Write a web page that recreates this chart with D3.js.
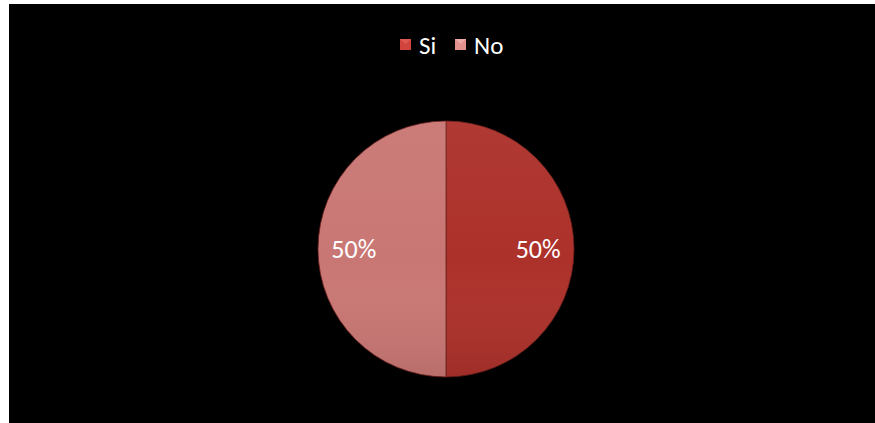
<!DOCTYPE html>
<html>
<head>
<meta charset="utf-8">
<script src="https://cdn.jsdelivr.net/npm/d3@7"></script>
<style>
  html, body { margin: 0; padding: 0; background: #ffffff; }
  svg { display: block; }
</style>
</head>
<body>
<svg id="chart" width="875" height="423"></svg>
<script>
// Survey answers and their shares
const categories = ["Si", "No"];
const values = [50, 50];
const colors = ["#d0443d", "#e3918f"];
const lightColors = ["#e05d55", "#f0aeac"];
const darkColors = ["#ad312b", "#c97774"];

const svg = d3.select("#chart");
const W = 875, H = 423;
const fontFamily = "Carlito, 'Open Sans', 'Liberation Sans', sans-serif";

// Black panel
svg.append("rect").attr("x", 9).attr("y", 4).attr("width", W - 9).attr("height", H - 4).attr("fill", "#000");

const cx = 446, cy = 249, r = 128;

// Beveled fill: flat centre, lighter rim, darker outer edge
const defs = svg.append("defs");
categories.forEach((c, i) => {
  const g = defs.append("radialGradient")
    .attr("id", "grad" + i)
    .attr("gradientUnits", "userSpaceOnUse")
    .attr("cx", cx).attr("cy", cy).attr("r", r);
  g.append("stop").attr("offset", "0%").attr("stop-color", colors[i]);
  g.append("stop").attr("offset", "88%").attr("stop-color", colors[i]);
  g.append("stop").attr("offset", "95%").attr("stop-color", lightColors[i]);
  g.append("stop").attr("offset", "100%").attr("stop-color", darkColors[i]);
  const lg = defs.append("linearGradient").attr("id", "shade" + i)
    .attr("x1", 0).attr("y1", 0).attr("x2", 0).attr("y2", 1);
  lg.append("stop").attr("offset", "0%").attr("stop-color", "#fff").attr("stop-opacity", 0.04);
  lg.append("stop").attr("offset", "55%").attr("stop-color", "#fff").attr("stop-opacity", 0);
  lg.append("stop").attr("offset", "100%").attr("stop-color", "#000").attr("stop-opacity", 0.08);
});

const pie = d3.pie().sort(null).value(d => d.v);
const arcs = pie(categories.map((c, i) => ({ c, v: values[i], i })));
const arc = d3.arc().innerRadius(0).outerRadius(r);
const labelArc = d3.arc().innerRadius(r * 0.72).outerRadius(r * 0.72);
const total = d3.sum(values);

const pieG = svg.append("g");
pieG.selectAll("path.slice").data(arcs).join("path")
  .attr("class", "slice")
  .attr("d", arc)
  .attr("transform", `translate(${cx},${cy})`)
  .attr("fill", d => `url(#grad${d.data.i})`)
  .attr("stroke", "#6a1e1c")
  .attr("stroke-width", 0.8);
pieG.selectAll("path.shade").data(arcs).join("path")
  .attr("class", "shade")
  .attr("d", arc)
  .attr("transform", `translate(${cx},${cy})`)
  .attr("fill", d => `url(#shade${d.data.i})`);

svg.append("g").selectAll("text").data(arcs).join("text")
  .attr("transform", d => {
    const [x, y] = labelArc.centroid(d);
    return `translate(${cx + x},${cy + y})`;
  })
  .attr("text-anchor", "middle")
  .attr("dy", "0.35em")
  .attr("fill", "#ffffff")
  .attr("font-family", fontFamily)
  .attr("font-size", 26)
  .text(d => Math.round(d.data.v / total * 100) + "%");

// Legend
const legend = svg.append("g");
const legendX = [400, 455];
categories.forEach((c, i) => {
  const lg = legend.append("g").attr("transform", `translate(${legendX[i]},${39})`);
  lg.append("rect").attr("width", 11).attr("height", 11).attr("fill", colors[i]);
  lg.append("path").attr("d", "M0,0 L5.5,5 L11,0 Z").attr("fill", lightColors[i]).attr("opacity", 0.85);
  lg.append("text").attr("x", 19).attr("y", 5.5).attr("dy", "0.36em")
    .attr("fill", "#ffffff")
    .attr("font-family", fontFamily)
    .attr("font-size", 25)
    .text(c);
});
</script>
</body>
</html>
